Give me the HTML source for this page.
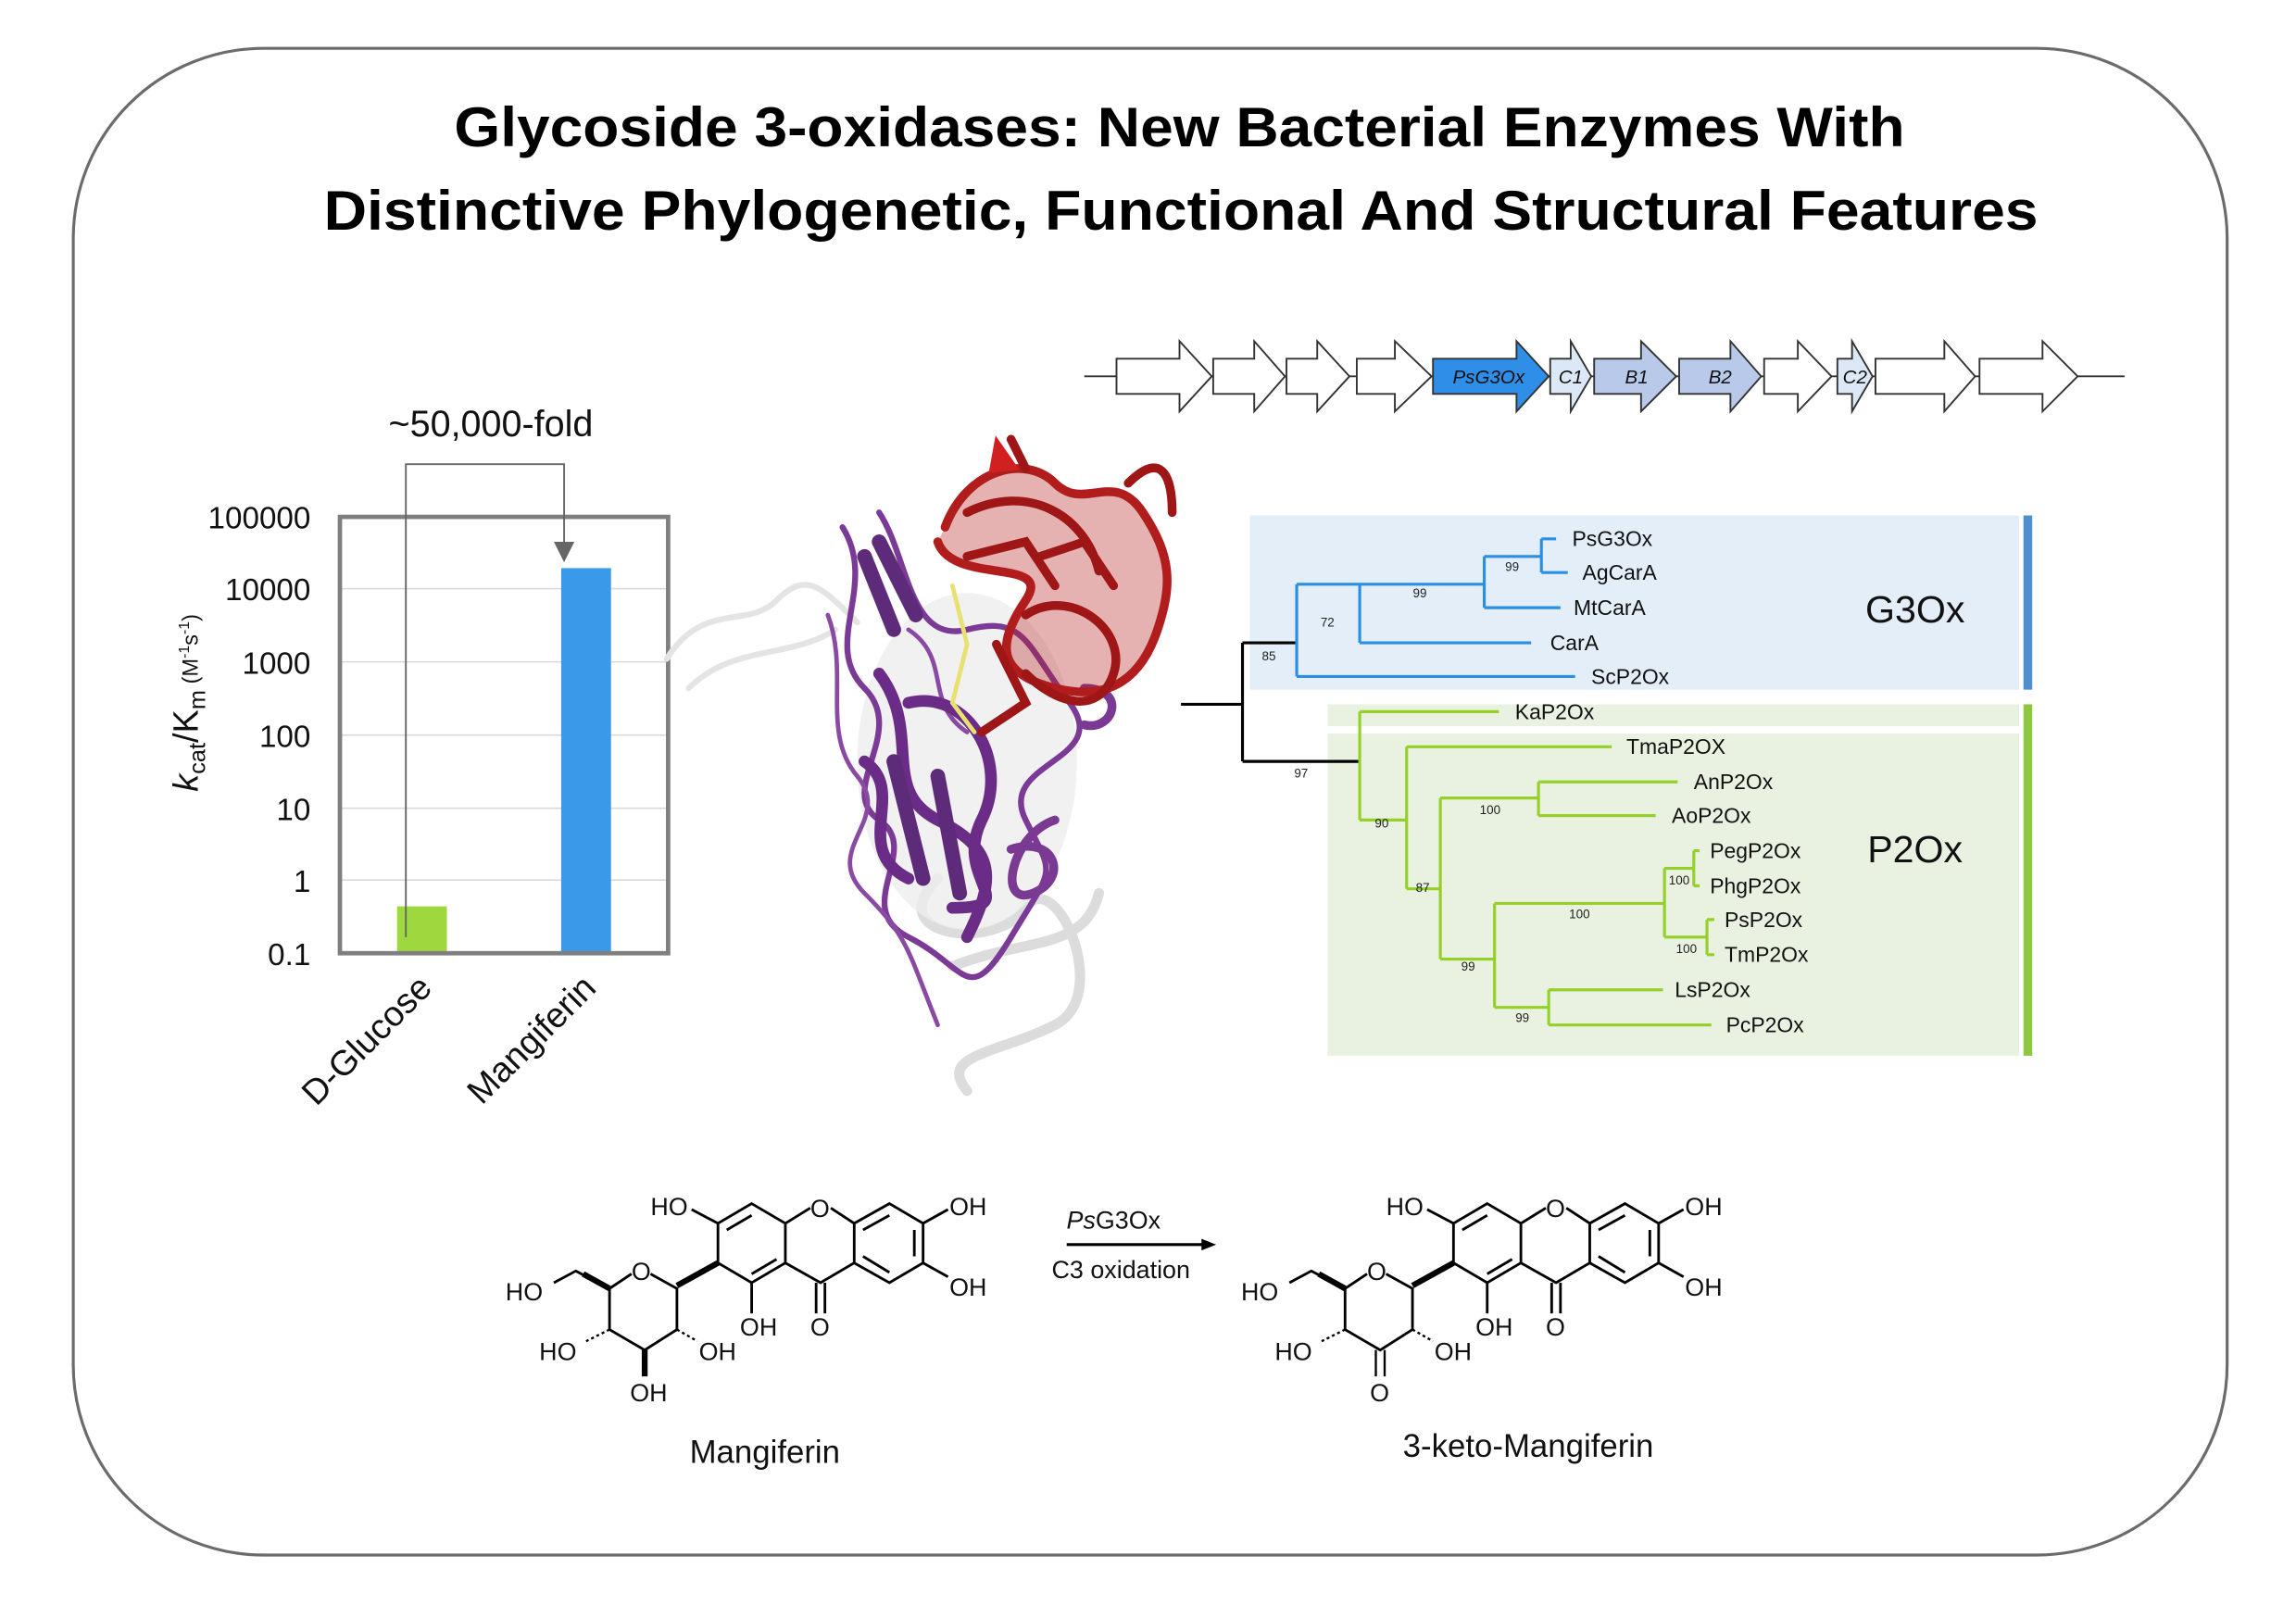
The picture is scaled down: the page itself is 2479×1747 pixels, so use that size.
<!DOCTYPE html>
<html><head><meta charset="utf-8"><style>
html,body{margin:0;padding:0;background:#fff;}
svg{display:block;}
text{font-family:"Liberation Sans",sans-serif;}
</style></head><body>
<svg width="2479" height="1747" viewBox="0 0 1567 1105" preserveAspectRatio="none" xmlns="http://www.w3.org/2000/svg">
<rect x="50" y="33" width="1470" height="1029" rx="130" ry="130" fill="#fff" stroke="#6b6b6b" stroke-width="2"/>
<text x="805" y="100" font-size="38" font-weight="bold" text-anchor="middle" textLength="990" lengthAdjust="spacingAndGlyphs">Glycoside 3-oxidases: New Bacterial Enzymes With</text>
<text x="806" y="157" font-size="38" font-weight="bold" text-anchor="middle" textLength="1170" lengthAdjust="spacingAndGlyphs">Distinctive Phylogenetic, Functional And Structural Features</text>

<!-- gene cluster -->
<g stroke="#333" stroke-width="1.2">
<line x1="740" y1="257" x2="1450" y2="257"/>
<g fill="#fff">
<path d="M762,245H805V233L827,257L805,281V269H762Z"/>
<path d="M828,245H856V233L877,257L856,281V269H828Z"/>
<path d="M878,245H899V233L921,257L899,281V269H878Z"/>
<path d="M926,245H952V233L977,257L952,281V269H926Z"/>
<path d="M1204,245H1227V233L1250,257L1227,281V269H1204Z"/>
<path d="M1280,245H1327V233L1348,257L1327,281V269H1280Z"/>
<path d="M1351,245H1394V233L1418,257L1394,281V269H1351Z"/>
</g>
<path d="M978,245H1035V233L1057,257L1035,281V269H978Z" fill="#2f8fe8"/>
<path d="M1058,245H1072V233L1086,257L1072,281V269H1058Z" fill="#dde8f6"/>
<path d="M1088,245H1120V233L1144,257L1120,281V269H1088Z" fill="#b8c9ea"/>
<path d="M1146,245H1181V233L1202,257L1181,281V269H1146Z" fill="#b8c9ea"/>
<path d="M1254,245H1264V233L1278,257L1264,281V269H1254Z" fill="#dde8f6"/>
</g>
<g font-size="13" font-style="italic" fill="#111">
<text x="1016" y="262" text-anchor="middle">PsG3Ox</text>
<text x="1072" y="262" text-anchor="middle">C1</text>
<text x="1117" y="262" text-anchor="middle">B1</text>
<text x="1174" y="262" text-anchor="middle">B2</text>
<text x="1266" y="262" text-anchor="middle">C2</text>
</g>

<!-- bar chart -->
<g stroke="#d9d9d9" stroke-width="1">
<line x1="232" y1="402" x2="456" y2="402"/><line x1="232" y1="452" x2="456" y2="452"/>
<line x1="232" y1="502" x2="456" y2="502"/><line x1="232" y1="552" x2="456" y2="552"/>
<line x1="232" y1="601" x2="456" y2="601"/>
</g>
<rect x="271" y="619" width="34" height="32" fill="#9ed83e"/>
<rect x="383" y="388" width="34" height="263" fill="#3a9ae9"/>
<rect x="232" y="353" width="224" height="298" fill="none" stroke="#7f7f7f" stroke-width="3"/>
<g font-size="21" text-anchor="end" fill="#111">
<text x="212" y="361">100000</text><text x="212" y="410">10000</text><text x="212" y="460">1000</text>
<text x="212" y="510">100</text><text x="212" y="560">10</text><text x="212" y="609">1</text><text x="212" y="659">0.1</text>
</g>
<polyline points="277,640 277,317 385,317 385,372" fill="none" stroke="#666" stroke-width="1.2"/>
<path d="M378,370L392,370L385,384Z" fill="#666"/>
<text x="335" y="298" font-size="25" text-anchor="middle" fill="#111">~50,000-fold</text>
<text transform="translate(135,480) rotate(-90)" font-size="24" text-anchor="middle" fill="#111"><tspan font-style="italic">k</tspan><tspan font-size="16" dy="5">cat</tspan><tspan dy="-5">/K</tspan><tspan font-size="16" dy="5">m</tspan><tspan font-size="15" dy="-5"> (M</tspan><tspan font-size="10" dy="-6">-1</tspan><tspan font-size="15" dy="6">s</tspan><tspan font-size="10" dy="-6">-1</tspan><tspan font-size="15" dy="6">)</tspan></text>
<text transform="translate(296,676) rotate(-45)" font-size="24" text-anchor="end" fill="#111">D-Glucose</text>
<text transform="translate(408,676) rotate(-45)" font-size="24" text-anchor="end" fill="#111">Mangiferin</text>

<!-- protein approximation -->
<g fill="none" stroke-linecap="round">
<path d="M455,450 C480,410 510,430 530,410 S560,400 585,425 M470,470 C500,440 540,450 570,430" stroke="#e4e4e4" stroke-width="4"/>
<path d="M640,600 C600,640 680,650 700,620 S760,680 720,700 S640,720 660,745 M650,660 C700,640 740,650 750,610" stroke="#dcdcdc" stroke-width="7"/>
<ellipse cx="660" cy="520" rx="75" ry="115" fill="#eeeeee" stroke="none" opacity="0.8"/>
<path d="M575,360 C600,400 560,440 590,470 S570,540 600,560 S580,620 620,640 S660,690 690,640 S720,600 700,560 S760,520 730,480 S700,420 660,430 S620,380 600,350" stroke="#7b3a96" stroke-width="4"/>
<path d="M565,420 C580,460 560,500 585,530 S560,580 590,610 S620,650 640,700 M620,430 C650,450 630,480 660,500" stroke="#8a4aa4" stroke-width="3"/>
<path d="M600,460 C630,500 600,540 640,560 S680,600 660,640 M620,480 C660,470 690,520 670,560 S700,620 650,620 M590,520 C620,540 580,580 620,600" stroke="#6a2c86" stroke-width="8"/>
<path d="M600,370 L625,420 M590,380 L610,430 M610,520 L630,600 M640,530 L655,610" stroke="#5e2a7a" stroke-width="10"/>
<path d="M690,580 C720,570 730,600 705,610 S690,570 720,560 M740,470 C770,470 760,500 740,495" stroke="#7a3a94" stroke-width="6"/>
<path d="M645,360 C660,320 700,310 720,330 S760,320 780,350 S800,400 790,430 S760,480 720,470 S680,440 700,410 S650,400 640,370" fill="#b62020" fill-opacity="0.35" stroke="#b11c1c" stroke-width="6"/>
<path d="M660,350 C700,330 740,350 750,390 M690,300 L700,320 M700,420 C730,400 770,430 760,460 S720,480 700,460 M770,330 C790,310 800,320 800,350 M710,380 L740,370 L760,400 M660,380 L700,370 L720,400 M680,440 L700,480 L670,500" stroke="#9e1616" stroke-width="6"/>
<path d="M680,300 L694,320 L676,322Z" fill="#d02020" stroke="#d02020" stroke-width="2"/>
<path d="M650,400 L660,440 L650,480 L665,500" stroke="#e8e070" stroke-width="3"/>
</g>

<!-- tree -->
<rect x="853" y="352" width="525" height="119" fill="#e3eef8"/>
<rect x="1381" y="352" width="6" height="119" fill="#4f8fd0"/>
<rect x="906" y="481" width="472" height="15" fill="#e9f2e1"/>
<rect x="906" y="501" width="472" height="220" fill="#e9f2e1"/>
<rect x="1381" y="481" width="6" height="240" fill="#8dc63f"/>
<g fill="none" stroke-width="2">
<path d="M806,481H848M848,439V520M848,439H885M848,520H928" stroke="#000"/>
<path d="M885,399V462M885,462H1075M885,399H928M928,399V439M928,439H1045M928,399H1013M1013,380V415M1013,415H1065M1013,380H1052M1052,368V391M1052,368H1062M1052,391H1070" stroke="#2a8fe0"/>
<path d="M928,486V560M928,486H1023M928,560H960M960,510V607M960,510H1100M960,607H983M983,545V655M983,545H1050M1050,534V557M1050,534H1145M1050,557H1130M983,655H1020M1020,617V688M1020,617H1136M1020,688H1057M1057,676V700M1057,676H1135M1057,700H1168M1136,593V640M1136,593H1156M1156,581V605M1156,581H1160M1156,605H1160M1136,640H1165M1165,628V652M1165,628H1170M1165,652H1170" stroke="#93d028"/>
</g>
<g font-size="14.5" fill="#111">
<text x="1073" y="373">PsG3Ox</text><text x="1080" y="396">AgCarA</text><text x="1074" y="420">MtCarA</text>
<text x="1058" y="444">CarA</text><text x="1086" y="467">ScP2Ox</text><text x="1034" y="491">KaP2Ox</text>
<text x="1110" y="515">TmaP2OX</text><text x="1156" y="539">AnP2Ox</text><text x="1141" y="562">AoP2Ox</text>
<text x="1167" y="586">PegP2Ox</text><text x="1167" y="610">PhgP2Ox</text><text x="1177" y="633">PsP2Ox</text>
<text x="1177" y="657">TmP2Ox</text><text x="1143" y="681">LsP2Ox</text><text x="1178" y="705">PcP2Ox</text>
</g>
<g font-size="8.5" fill="#222" text-anchor="middle">
<text x="1032" y="390">99</text><text x="969" y="408">99</text><text x="906" y="428">72</text><text x="866" y="451">85</text>
<text x="888" y="531">97</text><text x="943" y="565">90</text><text x="971" y="609">87</text><text x="1017" y="556">100</text>
<text x="1002" y="663">99</text><text x="1078" y="627">100</text><text x="1146" y="604">100</text><text x="1151" y="651">100</text><text x="1039" y="698">99</text>
</g>
<text x="1307" y="425" font-size="26" text-anchor="middle" fill="#111">G3Ox</text>
<text x="1307" y="589" font-size="26" text-anchor="middle" fill="#111">P2Ox</text>

<!-- chemistry -->
<defs>
<g id="mol" stroke="#000" stroke-width="1.8" fill="none">
<path d="M513,822L536,835.5L536,862.5L513,876L490,862.5L490,835.5Z"/>
<path d="M536,835.5L553,825M567,825L583,835.5L583,862.5L560,876L536,862.5"/>
<path d="M583,835.5L607,822L630,835.5L630,862.5L607,876L583,862.5"/>
<path d="M496,840L513,830M530,860L513,870M589,840L607,830M624,840V858M589,858L607,869"/>
<path d="M557,876V897M563,876V897"/>
<path d="M490,835.5L472,826M630,835.5L647,826M630,862.5L647,872M513,876V897"/>
<path d="M490,862.5L462,878" stroke-width="4"/>
<path d="M444,870L462,880L462,908L440,922L416,908L416,880L431,870"/>
<path d="M416,880L393,868L378,876" />
<path d="M416,880L398,870" stroke-width="4"/>
</g>
</defs>
<use href="#mol"/>
<use href="#mol" x="502"/>
<g stroke="#000" stroke-width="1.5" fill="none">
<path d="M462,908L476,916" stroke-dasharray="2,2"/>
<path d="M416,908L400,916" stroke-dasharray="2,2"/>
<path d="M918,908L902,916" stroke-dasharray="2,2"/>
<path d="M964,908L978,916" stroke-dasharray="2,2"/>
<path d="M440,922V940" stroke-width="4"/>
<path d="M939,922V940M945,922V940"/>
</g>
<g font-size="17" fill="#111">
<text x="444" y="830">HO</text><text x="648" y="830">OH</text><text x="553" y="831">O</text><text x="431" y="874">O</text>
<text x="345" y="888">HO</text><text x="648" y="885">OH</text><text x="505" y="912">OH</text><text x="553" y="912">O</text>
<text x="368" y="929">HO</text><text x="477" y="929">OH</text><text x="430" y="957">OH</text>
<text x="946" y="830">HO</text><text x="1150" y="830">OH</text><text x="1055" y="831">O</text><text x="933" y="874">O</text>
<text x="847" y="888">HO</text><text x="1150" y="885">OH</text><text x="1007" y="912">OH</text><text x="1055" y="912">O</text>
<text x="870" y="929">HO</text><text x="979" y="929">OH</text><text x="935" y="957">O</text>
</g>
<line x1="728" y1="850" x2="822" y2="850" stroke="#000" stroke-width="2"/>
<path d="M820,846L830,850L820,854Z" fill="#000"/>
<text x="760" y="839" font-size="17" text-anchor="middle" fill="#111"><tspan font-style="italic">Ps</tspan>G3Ox</text>
<text x="765" y="873" font-size="17" text-anchor="middle" fill="#111">C3 oxidation</text>
<text x="522" y="999" font-size="22" text-anchor="middle" fill="#111">Mangiferin</text>
<text x="1043" y="995" font-size="22" text-anchor="middle" fill="#111">3-keto-Mangiferin</text>
</svg>
</body></html>
